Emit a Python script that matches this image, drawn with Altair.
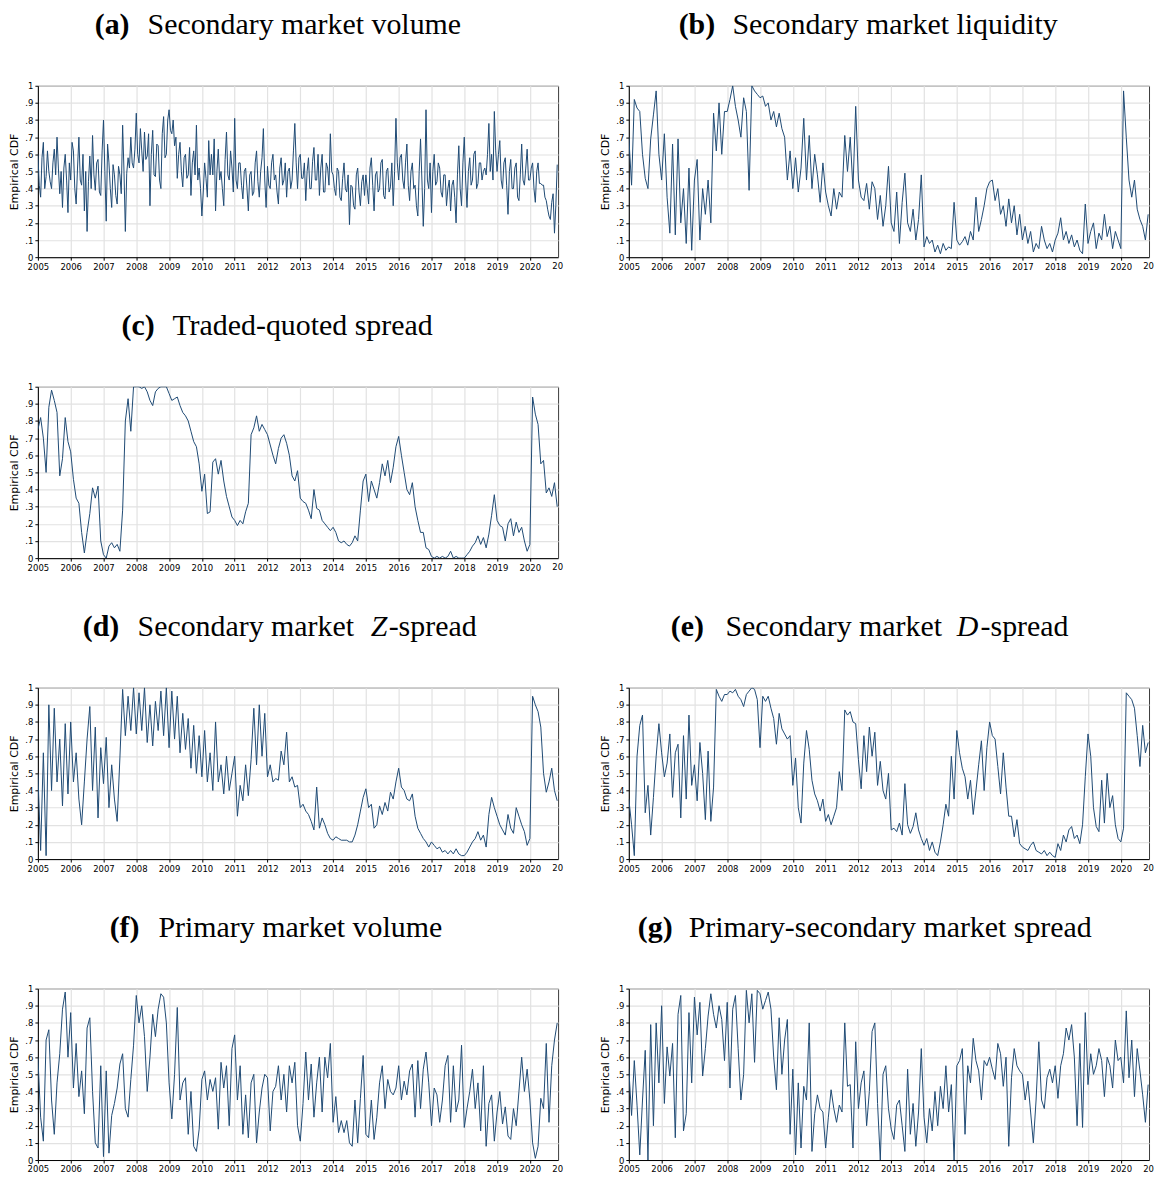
import pandas as pd
import altair as alt

alt.data_transformers.disable_max_rows()

# readings from Jan 2005 onwards, one row per year
# (a) is read twice a month, the others once a month
sec_volume = [
    .60, .42, .35, .58, .67, .40, .47, .62, .50, .44, .40, .55, .63, .48, .70, .52, .37, .50, .29, .52, .60, .45, .26, .55,
    .45, .67, .62, .40, .31, .52, .70, .45, .42, .60, .27, .50, .15, .44, .59, .40, .71, .48, .39, .55, .57, .38, .36, .62,
    .80, .50, .21, .66, .55, .40, .29, .54, .48, .36, .31, .53, .48, .37, .77, .50, .15, .49, .58, .52, .70, .55, .52, .63,
    .84, .60, .55, .75, .62, .50, .73, .57, .59, .72, .30, .60, .74, .48, .47, .66, .65, .45, .40, .72, .82, .58, .60, .80,
    .86, .74, .72, .80, .65, .70, .46, .60, .67, .50, .41, .58, .60, .46, .48, .64, .36, .55, .62, .48, .77, .45, .52, .40,
    .24, .38, .55, .46, .35, .68, .48, .60, .48, .69, .27, .50, .63, .45, .50, .40, .30, .57, .73, .48, .45, .62, .52, .38,
    .81, .45, .40, .55, .55, .42, .34, .50, .52, .40, .27, .48, .50, .36, .38, .55, .62, .44, .35, .50, .58, .75, .45, .29,
    .53, .42, .40, .55, .60, .45, .48, .38, .31, .52, .58, .42, .45, .55, .35, .50, .52, .40, .45, .62, .78, .55, .40, .58,
    .60, .46, .46, .55, .33, .50, .58, .40, .40, .56, .64, .45, .45, .60, .36, .52, .60, .38, .38, .55, .52, .42, .72, .50,
    .48, .40, .36, .52, .50, .35, .33, .46, .55, .40, .38, .48, .19, .42, .41, .30, .28, .48, .52, .38, .30, .44, .48, .36,
    .48, .40, .31, .52, .58, .42, .27, .48, .50, .38, .40, .55, .57, .36, .34, .50, .52, .38, .41, .55, .30, .50, .81, .55,
    .45, .58, .60, .45, .40, .55, .66, .42, .33, .50, .55, .40, .42, .30, .24, .50, .69, .45, .18, .40, .86, .45, .40, .55,
    .26, .50, .60, .42, .44, .55, .52, .38, .35, .48, .48, .30, .40, .45, .27, .42, .45, .35, .20, .48, .65, .40, .30, .55,
    .70, .45, .29, .50, .58, .42, .45, .60, .62, .40, .43, .55, .55, .45, .50, .52, .48, .60, .78, .50, .60, .45, .85, .62,
    .50, .60, .68, .45, .40, .55, .58, .42, .25, .50, .57, .40, .40, .52, .55, .35, .33, .48, .66, .45, .42, .52, .63, .45,
    .45, .52, .55, .40, .32, .50, .55, .43, .43, .42, .42, .35, .33, .28, .24, .22, .32, .37, .14, .30, .54,
]
sec_liquidity = [
    .70, .42, .92, .87, .85, .60, .46, .40, .69, .83, .97, .60,
    .45, .72, .35, .14, .66, .13, .69, .20, .40, .08, .52, .04,
    .45, .57, .10, .40, .25, .45, .20, .84, .62, .90, .60, .85,
    .85, .92, 1.0, .88, .80, .70, .93, .85, .39, 1.0, .97, .95,
    .93, .94, .88, .90, .80, .85, .76, .84, .75, .70, .45, .62,
    .40, .58, .38, .52, .81, .45, .71, .40, .60, .48, .32, .55,
    .38, .30, .24, .40, .28, .38, .35, .71, .50, .70, .40, .88,
    .45, .35, .33, .43, .28, .44, .40, .22, .36, .18, .30, .53,
    .20, .15, .38, .08, .32, .49, .20, .15, .28, .10, .22, .48,
    .06, .12, .08, .10, .03, .07, .02, .08, .04, .06, .05, .32,
    .10, .07, .09, .12, .07, .15, .10, .35, .15, .22, .30, .40,
    .44, .45, .33, .40, .25, .30, .18, .34, .20, .30, .13, .25,
    .10, .18, .08, .15, .03, .08, .05, .18, .10, .05, .08, .03,
    .10, .14, .23, .10, .15, .08, .13, .06, .10, .04, .02, .31,
    .08, .15, .20, .05, .14, .10, .25, .12, .18, .05, .15, .10,
    .05, .97, .70, .45, .35, .45, .28, .22, .18, .10, .25,
]
traded_quoted = [
    .75, .82, .70, .50, .88, .98, .92, .85, .48, .58, .82, .68,
    .62, .46, .35, .32, .15, .03, .15, .26, .41, .35, .42, .10,
    .02, .00, .07, .09, .06, .08, .04, .28, .80, .93, .74, 1.0,
    1.0, 1.0, .99, 1.0, .97, .92, .89, .97, .99, 1.0, 1.0, 1.0,
    .96, .92, .93, .94, .89, .85, .83, .80, .74, .68, .65, .55,
    .39, .49, .26, .27, .56, .58, .49, .57, .45, .36, .30, .24,
    .22, .19, .22, .20, .27, .32, .72, .76, .83, .74, .78, .75,
    .72, .66, .60, .55, .64, .70, .72, .67, .60, .48, .45, .51,
    .35, .33, .32, .28, .23, .40, .29, .28, .22, .20, .18, .16,
    .18, .15, .10, .09, .10, .08, .07, .09, .13, .10, .28, .45,
    .49, .33, .45, .40, .35, .44, .55, .48, .57, .44, .53, .65,
    .71, .60, .50, .40, .37, .44, .30, .22, .15, .15, .06, .05,
    .01, .00, .01, .00, .01, .00, .01, .04, .00, .01, .00, .00,
    .00, .02, .04, .07, .09, .13, .08, .12, .06, .14, .25, .37,
    .22, .19, .18, .10, .20, .23, .13, .21, .15, .18, .10, .04,
    .08, .94, .84, .78, .55, .57, .38, .41, .36, .44, .30,
]
z_spread = [
    .50, .05, .62, .02, .90, .40, .88, .45, .70, .31, .79, .38,
    .80, .45, .62, .35, .20, .45, .70, .89, .40, .77, .24, .65,
    .44, .71, .30, .55, .35, .22, .59, .99, .72, .95, .75, 1.0,
    .73, .97, .75, 1.0, .68, .90, .66, .92, .75, .98, .72, 1.0,
    .65, .98, .70, .95, .62, .85, .64, .82, .53, .78, .50, .72,
    .48, .75, .45, .62, .40, .80, .45, .55, .38, .60, .40, .50,
    .60, .25, .43, .34, .55, .37, .58, .88, .55, .90, .60, .85,
    .48, .55, .45, .47, .46, .63, .55, .74, .45, .48, .42, .43,
    .30, .32, .28, .26, .22, .17, .42, .18, .24, .20, .15, .12,
    .11, .13, .12, .11, .11, .11, .10, .10, .14, .20, .28, .36,
    .41, .30, .32, .18, .20, .31, .26, .33, .28, .39, .35, .45,
    .53, .42, .40, .35, .34, .38, .25, .18, .15, .12, .10, .07,
    .10, .08, .06, .07, .04, .05, .03, .05, .03, .06, .03, .02,
    .02, .04, .07, .10, .12, .16, .11, .14, .07, .26, .36, .30,
    .25, .20, .17, .14, .26, .18, .15, .30, .25, .20, .16, .08,
    .12, .95, .90, .86, .77, .50, .39, .45, .53, .40, .34,
]
d_spread = [
    .35, .20, .02, .60, .78, .84, .27, .43, .14, .36, .60, .79,
    .62, .48, .56, .73, .36, .62, .67, .24, .72, .35, .84, .43,
    .55, .34, .68, .50, .23, .63, .22, .42, .99, .95, .92, .96,
    .96, .98, .97, .99, .95, .93, .89, .96, .98, 1.0, .99, .93,
    .65, .95, .92, .95, .88, .82, .67, .85, .76, .73, .70, .72,
    .43, .59, .30, .21, .56, .75, .64, .46, .38, .34, .28, .35,
    .22, .26, .20, .25, .30, .51, .40, .87, .84, .86, .80, .79,
    .58, .41, .72, .51, .77, .60, .74, .43, .57, .40, .35, .50,
    .17, .18, .16, .21, .14, .44, .20, .15, .19, .27, .17, .12,
    .08, .12, .05, .10, .04, .02, .10, .20, .32, .25, .60, .35,
    .75, .62, .53, .48, .35, .46, .26, .40, .55, .69, .40, .65,
    .80, .72, .70, .54, .38, .62, .42, .25, .25, .13, .23, .09,
    .07, .06, .05, .08, .10, .05, .04, .03, .05, .02, .04, .02,
    .01, .09, .05, .14, .10, .17, .19, .12, .14, .09, .20, .48,
    .73, .60, .30, .19, .16, .46, .21, .50, .30, .37, .20, .12,
    .10, .18, .97, .95, .93, .88, .72, .54, .78, .62, .68,
]
prim_volume = [
    .60, .25, .11, .70, .76, .35, .15, .45, .62, .88, .98, .60,
    .86, .42, .68, .37, .52, .27, .77, .83, .40, .10, .07, .55,
    .02, .52, .04, .26, .33, .42, .56, .62, .30, .25, .47, .67,
    .96, .80, .90, .72, .40, .60, .85, .72, .88, .97, .95, .80,
    .45, .24, .50, .89, .35, .45, .48, .15, .40, .08, .05, .18,
    .47, .52, .35, .47, .40, .48, .18, .57, .42, .55, .20, .65,
    .73, .35, .55, .15, .38, .13, .45, .50, .10, .28, .42, .50,
    .48, .17, .40, .43, .55, .35, .50, .28, .55, .45, .57, .20,
    .11, .33, .63, .35, .56, .25, .45, .60, .28, .60, .48, .68,
    .22, .37, .16, .23, .16, .23, .10, .08, .35, .10, .36, .61,
    .15, .13, .35, .12, .25, .45, .55, .30, .47, .40, .38, .42,
    .55, .35, .46, .38, .52, .56, .25, .58, .30, .53, .63, .45,
    .20, .42, .38, .22, .35, .55, .61, .22, .55, .28, .35, .67,
    .19, .30, .40, .53, .30, .45, .17, .55, .08, .33, .38, .11,
    .28, .40, .21, .31, .14, .12, .30, .20, .40, .60, .40, .53,
    .35, .10, .01, .08, .36, .30, .68, .22, .55, .70, .80,
]
prim_sec_spread = [
    .53, .26, .58, .32, .03, .35, .64, .00, .79, .20, .80, .45,
    .90, .33, .66, .49, .68, .13, .85, .96, .17, .27, .86, .45,
    .95, .73, .92, .49, .65, .84, .97, .85, .77, .90, .82, .58,
    .92, .42, .88, .96, .65, .35, .50, .99, .80, .97, .57, .99,
    .97, .88, .93, .98, .88, .60, .41, .83, .50, .70, .82, .15,
    .53, .03, .45, .07, .43, .35, .80, .05, .27, .38, .30, .28,
    .07, .25, .41, .30, .22, .32, .28, .80, .43, .44, .07, .69,
    .30, .45, .52, .20, .40, .75, .80, .33, .00, .50, .55, .30,
    .18, .12, .32, .35, .20, .05, .53, .15, .33, .08, .28, .65,
    .25, .10, .30, .17, .40, .20, .43, .30, .55, .28, .44, .00,
    .55, .58, .65, .15, .55, .45, .71, .58, .52, .35, .58, .55,
    .60, .53, .47, .68, .62, .43, .60, .08, .48, .65, .55, .52,
    .50, .35, .46, .28, .10, .35, .69, .35, .30, .48, .53, .45,
    .55, .36, .55, .62, .77, .70, .79, .60, .20, .68, .19, .86,
    .44, .62, .50, .55, .65, .58, .37, .60, .55, .42, .70, .58,
    .60, .45, .87, .48, .70, .37, .65, .52, .38, .22, .44,
]

years = list(range(2005, 2021))
cdf_ticks = [0, .1, .2, .3, .4, .5, .6, .7, .8, .9, 1]

NAVY = '#1f4a74'
W, H = 522, 172
X_END = 2020.86
SERIF = 'Liberation Serif'
SANS = 'DejaVu Sans'


def one_text(text):
    return alt.Chart(pd.DataFrame({'t': [text]}))


def panel(values, heading, per_year=12):
    frame = pd.DataFrame({'year': [2005 + i / per_year for i in range(len(values))], 'cdf': values})
    line = alt.Chart(frame).mark_line(color=NAVY, strokeWidth=1, clip=True).encode(
        x=alt.X('year:Q', title=None,
                scale=alt.Scale(domain=[2005, X_END], nice=False, zero=False),
                axis=alt.Axis(values=years, format='d', labelFlush=False, labelOverlap=False)),
        y=alt.Y('cdf:Q', title='Empirical CDF',
                scale=alt.Scale(domain=[0, 1], nice=False),
                axis=alt.Axis(values=cdf_ticks, labelFlush=False, labelOverlap=False,
                              labelExpr="datum.value == 0 ? '0' : datum.value == 1 ? '1' : substring(format(datum.value, '.1f'), 1)")))
    # the 2021 label is cut in half at the figure edge
    cut = one_text('20').mark_text(align='right', baseline='top', font=SANS, fontSize=8.5, color='black').encode(
        text='t:N', x=alt.value(W + 5), y=alt.value(H + 5))
    layers = [line, cut]
    for text, x0, weight, style in heading:
        layers.append(one_text(text).mark_text(
            align='left', baseline='alphabetic', font=SERIF, fontSize=30,
            fontWeight=weight, fontStyle=style, color='black').encode(
            text='t:N', x=alt.value(x0), y=alt.value(-51.5)))
    return alt.layer(*layers).properties(width=W, height=H)


pa = panel(sec_volume, [('(a)', 57, 'bold', 'normal'), ('Secondary market volume', 110, 'normal', 'normal')], per_year=24)
pb = panel(sec_liquidity, [('(b)', 50, 'bold', 'normal'), ('Secondary market liquidity', 104, 'normal', 'normal')])
pc = panel(traded_quoted, [('(c)', 84, 'bold', 'normal'), ('Traded-quoted spread', 135, 'normal', 'normal')])
pd_ = panel(z_spread, [('(d)', 45, 'bold', 'normal'), ('Secondary market', 100, 'normal', 'normal'),
                       ('Z', 334, 'normal', 'italic'), ('-spread', 352, 'normal', 'normal')])
pe = panel(d_spread, [('(e)', 42, 'bold', 'normal'), ('Secondary market', 97, 'normal', 'normal'),
                      ('D', 329, 'normal', 'italic'), ('-spread', 353, 'normal', 'normal')])
pf = panel(prim_volume, [('(f)', 72, 'bold', 'normal'), ('Primary market volume', 121, 'normal', 'normal')])
pg = panel(prim_sec_spread, [('(g)', 9, 'bold', 'normal'), ('Primary-secondary market spread', 60, 'normal', 'normal')])

# empty cell to the right of panel (c)
blank = one_text('').mark_text().encode(text='t:N').properties(
    width=W, height=H, view=alt.ViewBackground(stroke=None))

chart = alt.concat(
    pa, pb, pc, blank, pd_, pe, pf, pg,
    columns=2, spacing={'row': 130, 'column': 71}, bounds='flush',
).properties(
    padding={'left': 0, 'top': 0, 'right': 0, 'bottom': 0}
).configure_view(
    stroke='#3c3c3c', strokeWidth=1
).configure_axis(
    domainColor='black', domainWidth=1, tickColor='black', tickSize=3, tickWidth=1,
    gridColor='#e2e2e2', gridWidth=1.2,
    labelFont=SANS, labelFontSize=8.5, labelColor='black', labelPadding=2,
    titleFont=SANS, titleFontSize=11, titleFontWeight='normal', titleColor='black', titlePadding=5,
)

chart.save("out.html", embed_options={"renderer": "svg", "actions": False})
